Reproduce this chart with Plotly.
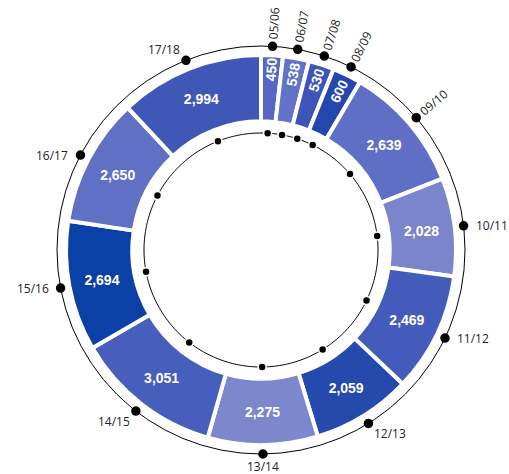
import numpy as np
import plotly.graph_objects as go

# Season totals, drawn clockwise from 12 o'clock
seasons = ["05/06", "06/07", "07/08", "08/09", "09/10", "10/11", "11/12",
           "12/13", "13/14", "14/15", "15/16", "16/17", "17/18"]
totals = [450, 538, 530, 600, 2639, 2028, 2469, 2059, 2275, 3051, 2694, 2650, 2994]
slice_colors = ["#5567c2", "#6272c6", "#3d55b8", "#2547ad", "#5f6fc5", "#7a85cb",
                "#435cbb", "#2549ad", "#7c87cc", "#475ebc", "#0b40a6", "#6070c5",
                "#3f58b8"]
# labels in the crowded early seasons are set radially
radial_labels = ["05/06", "06/07", "07/08", "08/09", "09/10"]

W, H = 509, 474
CX, CY = 261, 250          # ring centre in pixels
R_PIE = 195                # outer radius of the donut
R_OUT = 204                # outer guide circle
R_IN = 117                 # inner guide circle

vals = np.array(totals, dtype=float)
cum = np.cumsum(vals)
mid_deg = (cum - vals / 2) / vals.sum() * 360


def px_domain(r):
    return dict(x=[(CX - r) / W, (CX + r) / W],
                y=[1 - (CY + r) / H, 1 - (CY - r) / H])


fig = go.Figure()

fig.add_trace(go.Pie(
    labels=seasons, values=totals, sort=False, direction="clockwise",
    rotation=0, hole=0.66, domain=px_domain(R_PIE),
    marker=dict(colors=slice_colors, line=dict(color="white", width=4)),
    textinfo="value", texttemplate="%{value:,}", textposition="inside",
    insidetextorientation="auto",
    insidetextfont=dict(family="Liberation Sans, Arial", size=14, color="white",
                        weight="bold"),
    showlegend=False, hoverinfo="label+value",
))

# inner guide circle
ring_theta = np.linspace(0, 360, 361)
fig.add_trace(go.Scatterpolar(
    r=np.full(ring_theta.size, R_IN), theta=ring_theta, mode="lines",
    line=dict(color="black", width=1), hoverinfo="skip", showlegend=False,
))
# dots at slice midpoints on both circles
fig.add_trace(go.Scatterpolar(
    r=np.full(len(seasons), R_IN), theta=mid_deg, mode="markers",
    marker=dict(color="black", size=8, line=dict(color="white", width=1.5)),
    hoverinfo="skip", showlegend=False, cliponaxis=False,
))
fig.add_trace(go.Scatterpolar(
    r=np.full(len(seasons), R_OUT), theta=mid_deg, mode="markers",
    marker=dict(color="black", size=11, line=dict(color="white", width=1.5)),
    hoverinfo="skip", showlegend=False, cliponaxis=False,
))

# season labels around the outer circle
label_font = dict(family="Open Sans", size=12, color="#222")
for name, ang in zip(seasons, mid_deg):
    s, c = np.sin(np.radians(ang)), np.cos(np.radians(ang))
    if name in radial_labels:
        rc = R_OUT + 7 + 16
        fig.add_annotation(
            x=(CX + rc * s) / W, y=1 - (CY - rc * c) / H, xref="paper", yref="paper",
            text=name, showarrow=False, textangle=ang - 90,
            xanchor="center", yanchor="middle", font=label_font,
        )
        continue
    # dot position in pixels, then a small offset away from it
    dot_x, dot_y = CX + R_OUT * s, CY - R_OUT * c
    xa = "left" if s > 0.3 else ("right" if s < -0.3 else "center")
    ya = "bottom" if c > 0.6 else ("top" if c < -0.6 else "middle")
    side = 1 if xa == "left" else (-1 if xa == "right" else 0)
    if ya == "middle":
        ox, oy = 11 * side, 0
    elif xa == "center":
        ox, oy = 0, (3 if ya == "top" else -3)
    else:
        ox, oy = 5 * side, (1 if ya == "top" else -1)
    fig.add_annotation(
        x=(dot_x + ox) / W, y=1 - (dot_y + oy) / H, xref="paper", yref="paper",
        text=name, showarrow=False, xanchor=xa, yanchor=ya, font=label_font,
        borderpad=0,
    )

fig.update_layout(
    width=W, height=H, margin=dict(l=0, r=0, t=0, b=0),
    paper_bgcolor="white", plot_bgcolor="white",
    polar=dict(
        domain=px_domain(R_OUT), bgcolor="rgba(0,0,0,0)",
        radialaxis=dict(range=[0, R_OUT], visible=False),
        angularaxis=dict(rotation=90, direction="clockwise", showline=True,
                         linecolor="black", linewidth=1, showgrid=False,
                         showticklabels=False, ticks=""),
    ),
)

fig.write_html("out.html")
